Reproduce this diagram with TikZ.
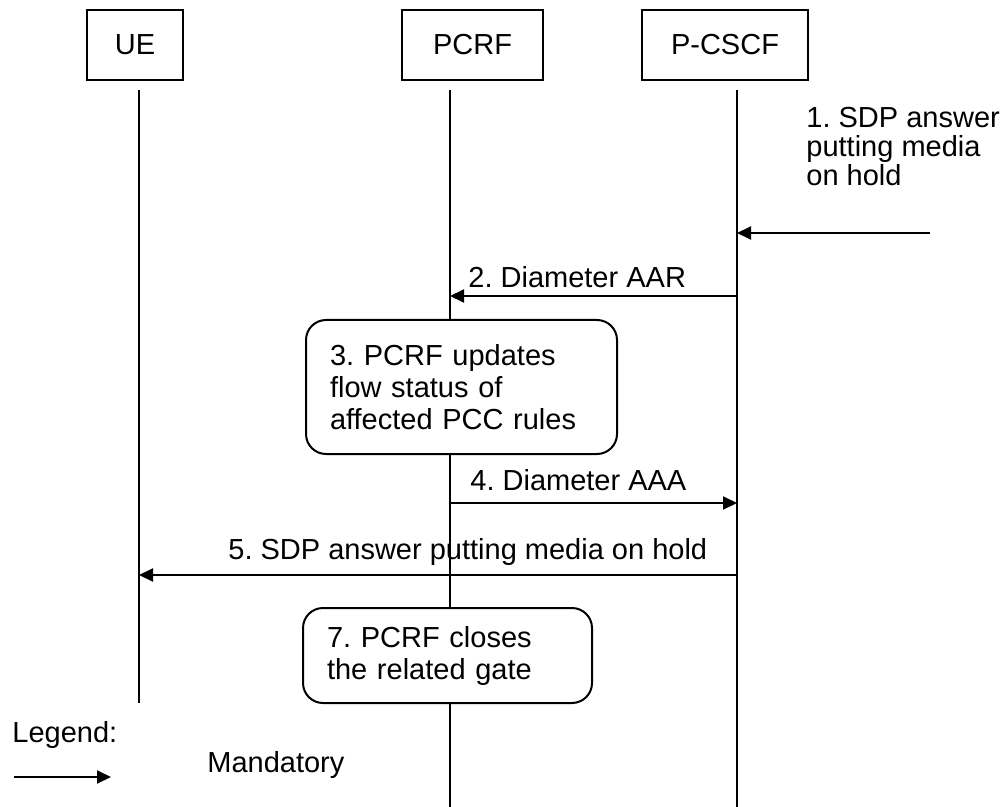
\documentclass[tikz,border=0pt]{standalone}
\usepackage{fontspec}
\setmainfont{Liberation Sans}
\usepackage{tikz}
\usetikzlibrary{
  arrows.meta,
  positioning
}
\frenchspacing
\tikzset{
  entity/.style={
    rectangle, draw=black, line width=1pt, fill=white,
    minimum height=35pt, inner sep=0pt,
    font=\fontsize{14.5}{16}\selectfont
  },
  action/.style={
    rectangle, rounded corners=10pt,
    draw=black, line width=1pt, fill=white,
    inner xsep=12pt, inner ysep=0pt, align=left,
    font=\fontsize{14.5}{16}\selectfont
  },
  lbl/.style={
    anchor=west, inner sep=0pt, align=left,
    font=\fontsize{14.5}{14.5}\selectfont
  },
  life/.style={line width=1pt},
  arr/.style={-{Triangle[length=7pt,width=6.5pt]}, line width=1pt}
}

\begin{document}
\begin{tikzpicture}[x=0.5pt,y=-0.5pt]
    \useasboundingbox (0,0) rectangle (1005,807);

    %% Entities
    \node[entity, minimum width=48pt] (ue) at (135,45) {UE};
    \node[entity, minimum width=70.5pt] (pcrf) at (472.5,45) {PCRF};
    \node[entity, minimum width=83pt] (pcscf) at (725,45) {P-CSCF};

    %% Lifelines
    \coordinate (ue-top) at (139,90);
    \coordinate (ue-bot) at (139,703);
    \coordinate (pcrf-top) at (450,90);
    \coordinate (pcrf-bot) at (450,807);
    \coordinate (pcscf-top) at (737,90);
    \coordinate (pcscf-bot) at (737,807);
    \draw[life] (ue-top) -- (ue-bot);
    \draw[life] (pcrf-top) -- (pcrf-bot);
    \draw[life] (pcscf-top) -- (pcscf-bot);

    %% 1. SDP answer
    \coordinate (in-1) at (930,233);
    \coordinate (pcscf-1) at (737,233);
    \draw[arr] (in-1) -- (pcscf-1);
    \node[lbl] (l1) at (806,147) {1. SDP answer\\putting media\\on hold};

    %% 2. Diameter AAR
    \coordinate (pcscf-2) at (737,296);
    \coordinate (pcrf-2) at (450,296);
    \draw[arr] (pcscf-2) -- (pcrf-2);
    \node[lbl] (l2) at (468,277) {2. Diameter AAR};

    %% 3. PCRF updates flow status
    \node[action, minimum width=155.5pt, minimum height=67pt,
      text width=131.5pt] (s3) at (461.5,387)
      {3. PCRF updates\\flow status of\\affected PCC rules};

    %% 4. Diameter AAA
    \coordinate (pcrf-4) at (450,503);
    \coordinate (pcscf-4) at (737,503);
    \draw[arr] (pcrf-4) -- (pcscf-4);
    \node[lbl] (l4) at (470,480) {4. Diameter AAA};

    %% 5. SDP answer to UE (label cut at the bottom)
    \coordinate (pcscf-5) at (737,575);
    \coordinate (ue-5) at (139,575);
    \draw[arr] (pcscf-5) -- (ue-5);
    \begin{scope}
      \clip (200,520) rectangle (735,564);
      \node[lbl] (l5) at (228,552) {5. SDP answer putting media on hold};
    \end{scope}

    %% 7. PCRF closes gate
    \node[action, minimum width=144.5pt, minimum height=47.5pt,
      text width=120.5pt] (s7) at (447.5,655.5)
      {7. PCRF closes\\the related gate};

    %% Legend
    \node[lbl] (leg) at (12,735) {Legend:};
    \coordinate (leg-a) at (14,777);
    \coordinate (leg-b) at (111,777);
    \draw[arr] (leg-a) -- (leg-b);
    \node[lbl] (mand) at (207,765) {Mandatory};

\end{tikzpicture}
\end{document}
